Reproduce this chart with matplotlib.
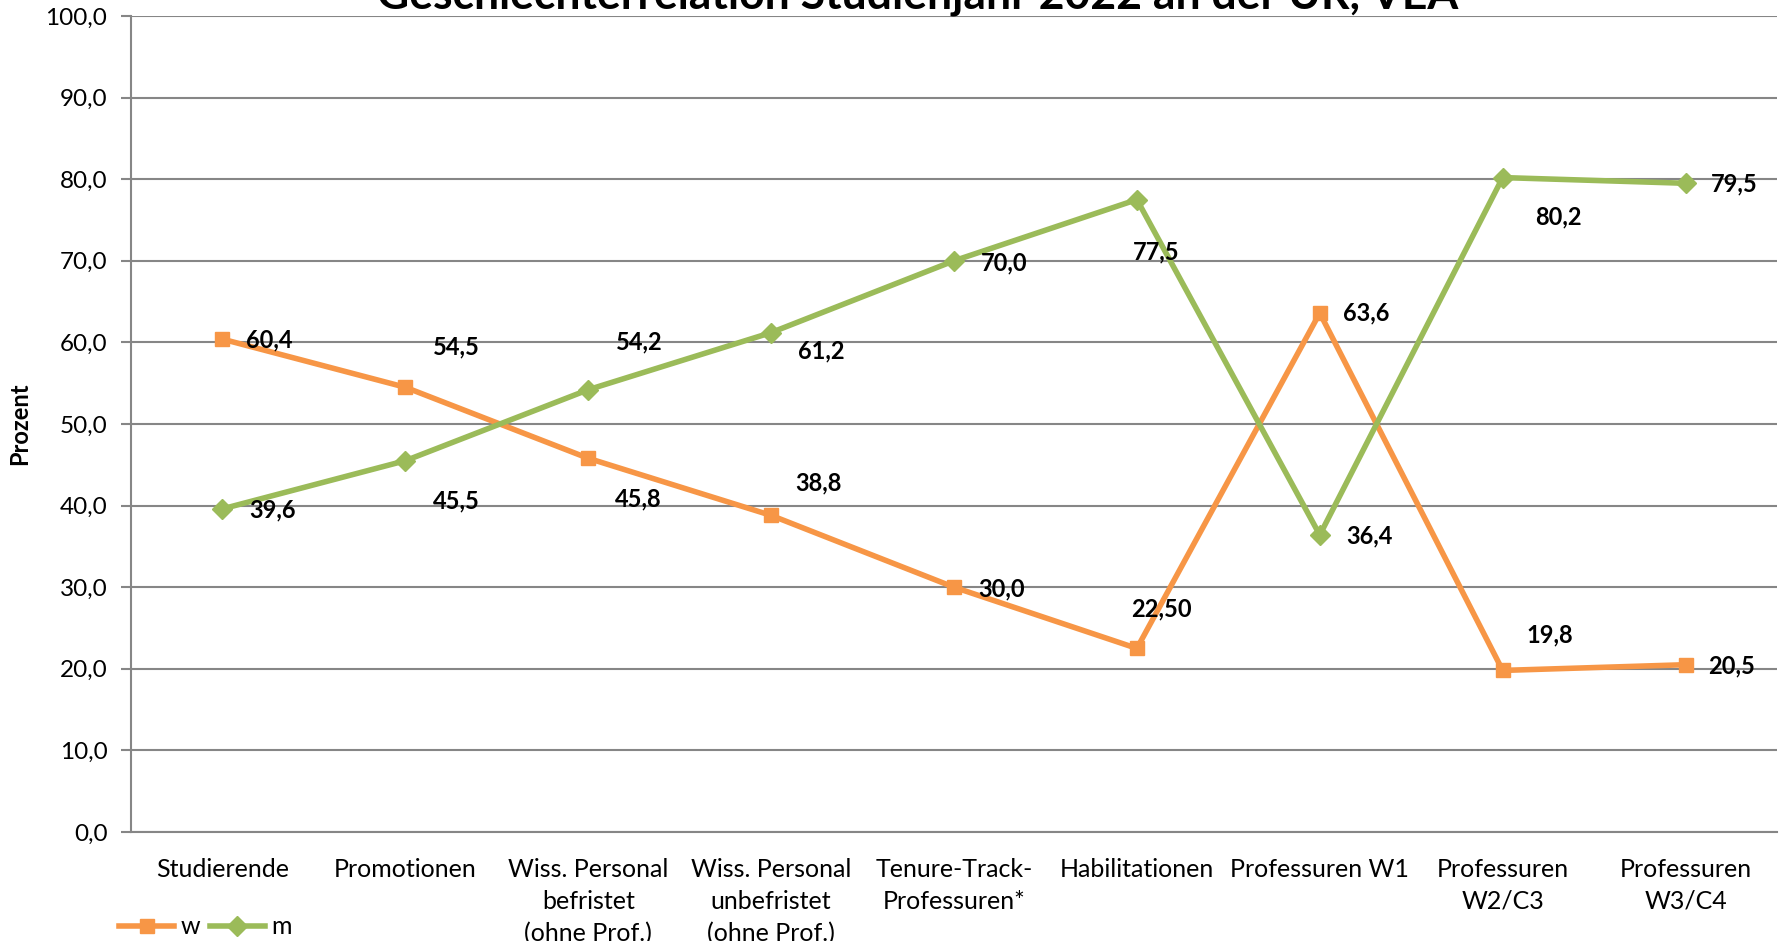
import matplotlib
matplotlib.use("Agg")
import matplotlib.pyplot as plt
from matplotlib.lines import Line2D

plt.rcParams["font.family"] = ["Lato", "DejaVu Sans"]

# ── Data ─────────────────────────────────────────────────────────────────────
categories = [
    "Studierende", "Promotionen", "Wiss. Personal\nbefristet\n(ohne Prof.)",
    "Wiss. Personal\nunbefristet\n(ohne Prof.)", "Tenure-Track-\nProfessuren*",
    "Habilitationen", "Professuren W1", "Professuren\nW2/C3", "Professuren\nW3/C4",
]
w_vals = [60.4, 54.5, 45.8, 38.8, 30.0, 22.5, 63.6, 19.8, 20.5]
m_vals = [39.6, 45.5, 54.2, 61.2, 70.0, 77.5, 36.4, 80.2, 79.5]
w_text = ["60,4", "54,5", "45,8", "38,8", "30,0", "22,50", "63,6", "19,8", "20,5"]
m_text = ["39,6", "45,5", "54,2", "61,2", "70,0", "77,5", "36,4", "80,2", "79,5"]
y_ticks = [0, 10, 20, 30, 40, 50, 60, 70, 80, 90, 100]

# label offsets in pixels (dx right, dy down)
w_off = [(47, 1), (51, -40), (50, 41), (47, -32), (48, 2), (25, -39), (46, 0), (47, -36), (46, 1)]
m_off = [(50, 1), (51, 40), (51, -48), (50, 18), (50, 2), (19, 52), (50, 1), (56, 39), (49, 1)]

COL_W = "#F79646"
COL_M = "#9BBB59"
GRID = "#868686"

fig = plt.figure(figsize=(17.83, 9.41), dpi=100)
ax = fig.add_axes([131 / 1783, 1 - 832 / 941, (1777 - 131) / 1783, (832 - 16) / 941])

x = list(range(len(categories)))
ax.plot(x, w_vals, color=COL_W, lw=4, marker="s", ms=10, zorder=3, clip_on=False)
ax.plot(x, m_vals, color=COL_M, lw=4, marker="D", ms=10, zorder=3, clip_on=False)

for xi, v, t, (dx, dy) in zip(x, w_vals, w_text, w_off):
    ax.annotate(t, (xi, v), xytext=(dx, -dy), textcoords="offset pixels",
                ha="center", va="center", fontsize=17, fontweight="bold", zorder=4)
for xi, v, t, (dx, dy) in zip(x, m_vals, m_text, m_off):
    ax.annotate(t, (xi, v), xytext=(dx, -dy), textcoords="offset pixels",
                ha="center", va="center", fontsize=17, fontweight="bold", zorder=4)

ax.set_xlim(-0.5, len(categories) - 0.5)
ax.set_ylim(0, 100)
ax.set_yticks(y_ticks)
ax.set_yticklabels([f"{v:.1f}".replace(".", ",") for v in y_ticks], fontsize=17.5)
ax.set_xticks(x)
ax.set_xticklabels(categories, fontsize=18, linespacing=1.45)
ax.tick_params(axis="x", length=0, pad=19)
ax.tick_params(axis="y", length=7, width=1.5, color=GRID, pad=10)

ax.grid(axis="y", color=GRID, lw=1.5)
ax.set_axisbelow(True)
for s in ["top", "right"]:
    ax.spines[s].set_visible(False)
for s in ["left", "bottom"]:
    ax.spines[s].set_color(GRID)
    ax.spines[s].set_linewidth(1.5)

fig.text(20 / 1783, 0.5 + (0.5 - 424 / 941), "Prozent", rotation=90, ha="center", va="center",
         fontsize=17, fontweight="bold")

fig.text(918 / 1783, 1 - 9 / 941, "Geschlechterrelation Studienjahr 2022 an der UR, VEA",
         ha="center", va="baseline", fontsize=32, fontweight="bold")

handles = [
    Line2D([], [], color=COL_W, lw=4, marker="s", ms=10),
    Line2D([], [], color=COL_M, lw=4, marker="D", ms=10),
]
fig.legend(handles, ["w", "m"], loc="center left", bbox_to_anchor=(119 / 1783, 1 - 927 / 941),
           ncol=2, frameon=False, fontsize=18, handlelength=2.2, handletextpad=0.25,
           columnspacing=0.4, borderaxespad=0, borderpad=0)

fig.savefig("out.png", dpi=100)
